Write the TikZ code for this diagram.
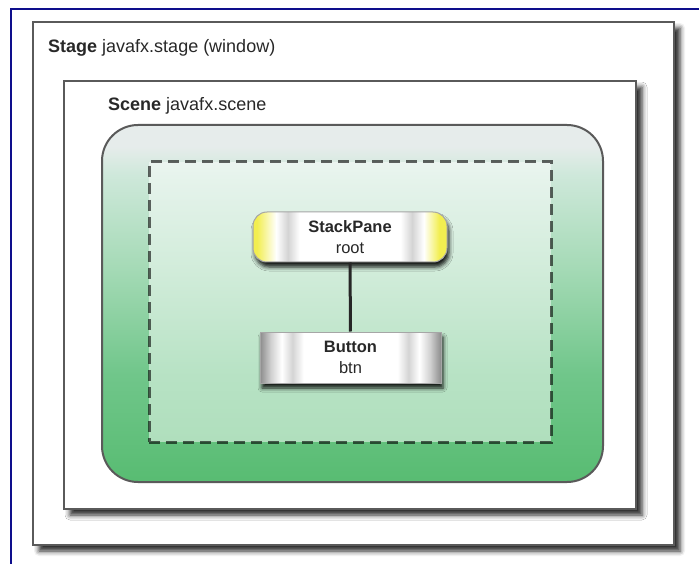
\documentclass[tikz,border=0pt]{standalone}
\usepackage{fontspec}
\setmainfont{Liberation Sans}
\usetikzlibrary{shadows.blur}

\definecolor{frameblue}{RGB}{14,14,140}
\definecolor{boxgray}{RGB}{90,90,90}
\definecolor{txt}{RGB}{40,40,40}
\definecolor{g0}{RGB}{88,188,114}
\definecolor{g1}{RGB}{112,198,138}
\definecolor{g2}{RGB}{165,218,182}
\definecolor{g3}{RGB}{206,232,218}
\definecolor{g4}{RGB}{230,236,235}
\definecolor{spyellow}{RGB}{242,238,80}
\definecolor{spgray}{RGB}{212,212,212}
\definecolor{btdark}{RGB}{140,140,140}
\definecolor{btmid}{RGB}{208,208,208}

\pgfdeclareverticalshading{scenegreen}{100bp}{color(0bp)=(g0); color(25bp)=(g0); color(40bp)=(g1); color(55bp)=(g2); color(68bp)=(g3); color(72bp)=(g4); color(100bp)=(g4)}
\pgfdeclarehorizontalshading{paneshade}{100bp}{color(0bp)=(spyellow); color(26bp)=(spyellow); color(31bp)=(white); color(34bp)=(spgray); color(37bp)=(white); color(63bp)=(white); color(66bp)=(spgray); color(69bp)=(white); color(73bp)=(spyellow); color(100bp)=(spyellow)}
\pgfdeclarehorizontalshading{btnshade}{100bp}{color(0bp)=(btdark); color(25bp)=(btdark); color(28bp)=(btmid); color(31bp)=(white); color(34bp)=(spgray); color(37bp)=(white); color(63bp)=(white); color(66bp)=(spgray); color(69bp)=(white); color(72bp)=(btmid); color(75bp)=(btdark); color(100bp)=(btdark)}

\begin{document}
\begin{tikzpicture}[x=1pt,y=-1pt,
  every node/.style={text=txt,inner sep=0pt},
  win/.style={draw=boxgray,line width=2.5pt,fill=white,
    blur shadow={shadow xshift=6pt,shadow yshift=-6pt,shadow blur radius=5pt,shadow opacity=85}},
  title/.style={anchor=base west,font=\fontsize{18}{20}\selectfont},
  pane/.style={draw=black!35,line width=1pt,align=center,
    font=\fontsize{16.5}{21}\selectfont,
    blur shadow={shadow xshift=2pt,shadow yshift=-5pt,shadow blur radius=4pt,shadow opacity=90}}]
\useasboundingbox (0,0) rectangle (699,564);
\draw[frameblue,line width=2.5pt] (11,564) -- (11,9) -- (699,9);
\node[win,minimum width=641pt,minimum height=523pt] (stage) at (353.5,283.5) {};
\node[title] (stagelbl) at (48,53) {\textbf{Stage} javafx.stage (window)};
\node[win,minimum width=572pt,minimum height=428pt] (scene) at (350,295) {};
\node[title] (scenelbl) at (108,111) {\textbf{Scene} javafx.scene};
\node[draw=boxgray,line width=2pt,rounded corners=36pt,shading=scenegreen,
  minimum width=501pt,minimum height=357pt] (graph) at (352.5,303.5) {};
\node[draw=black,draw opacity=0.6,line width=3pt,dash pattern=on 11pt off 6pt,
  fill=white,fill opacity=0.5,minimum width=402pt,minimum height=280pt] (rootarea) at (350,302) {};
\node[pane,rounded corners=14pt,shading=paneshade,minimum width=194pt,minimum height=50pt] (root) at (350,237) {\textbf{StackPane}\\root};
\node[pane,shading=btnshade,minimum width=181pt,minimum height=51pt] (btn) at (350.5,357.5) {\textbf{Button}\\btn};
\draw[line width=3pt,black!85] (root) -- (btn);
\end{tikzpicture}
\end{document}
